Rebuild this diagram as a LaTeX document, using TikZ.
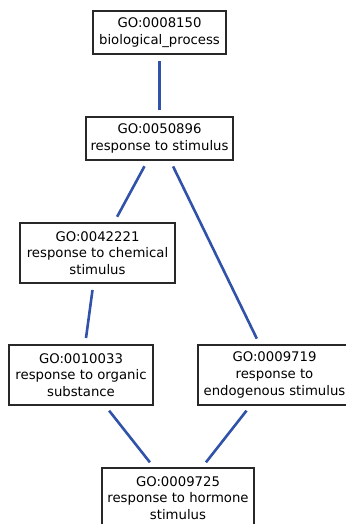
\documentclass[tikz,border=0pt]{standalone}
\usepackage{fontspec}
\setmainfont{DejaVu Sans}
\definecolor{edgeblue}{RGB}{48,82,168}
\definecolor{boxline}{RGB}{40,40,40}
\begin{document}
\begin{tikzpicture}[x=1bp,y=-1bp,
  term/.style={draw=boxline,line width=1.1bp,fill=white,align=center,
    inner sep=0pt,font=\fontsize{13.3}{16.8}\selectfont},
  link/.style={draw=edgeblue,line width=2.6bp,shorten >=6.5bp,shorten <=6.5bp}]
  \useasboundingbox (0,0) rectangle (345,524);
  \node[term,minimum width=133bp,minimum height=43bp] (bp)  at (159.5,32.5)
    {GO:0008150\\biological\_process};
  \node[term,minimum width=147bp,minimum height=43bp] (rs)  at (159.5,138.5)
    {GO:0050896\\response to stimulus};
  \node[term,minimum width=155bp,minimum height=60bp] (rc)  at (97.5,253)
    {GO:0042221\\response to chemical\\stimulus};
  \node[term,minimum width=144bp,minimum height=60bp] (ro)  at (81,375)
    {GO:0010033\\response to organic\\substance};
  \node[term,minimum width=153bp,minimum height=60bp] (re)  at (274.5,375)
    {GO:0009719\\response to\\endogenous stimulus};
  \node[term,minimum width=152bp,minimum height=60bp] (rh)  at (178,498)
    {GO:0009725\\response to hormone\\stimulus};
  \draw[link] (bp) -- (rs);
  \draw[link] (rs) -- (rc);
  \draw[link] (rs) -- (re);
  \draw[link] (rc) -- (ro);
  \draw[link] (ro) -- (rh);
  \draw[link] (re) -- (rh);
\end{tikzpicture}
\end{document}
